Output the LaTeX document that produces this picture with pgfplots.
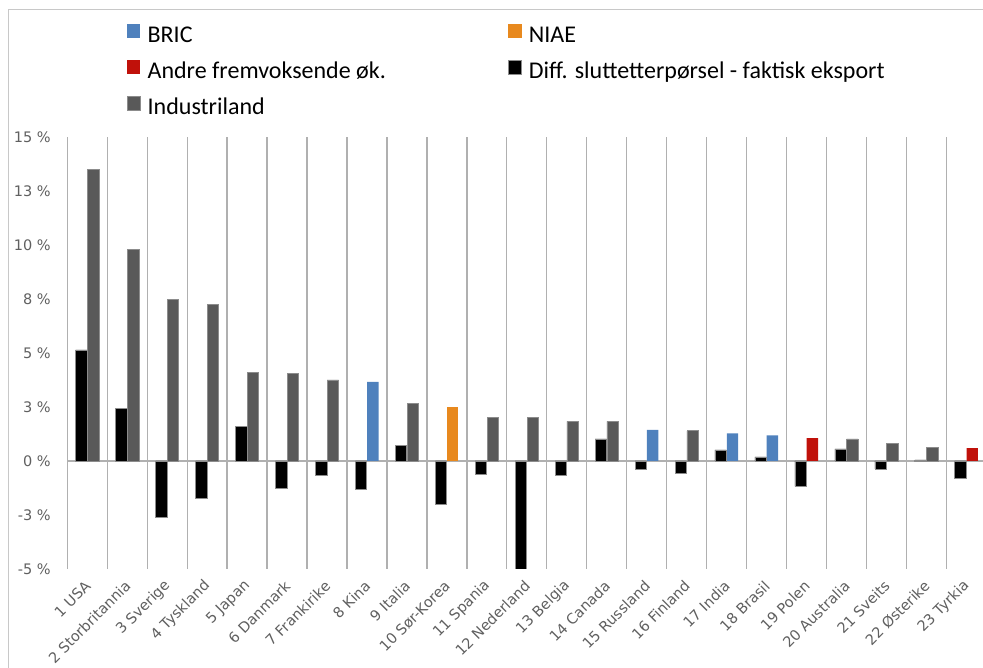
\documentclass[border=0pt]{standalone}
\usepackage{pgfplots}
\pgfplotsset{compat=1.18}
\usepackage{fontspec}
\setmainfont{Carlito}
\newfontfamily\tickfont{DejaVu Sans}
\definecolor{bric}{HTML}{4F81BD}
\definecolor{niae}{HTML}{E8891E}
\definecolor{andre}{HTML}{C0110A}
\definecolor{indgray}{HTML}{595959}
\definecolor{edgegray}{HTML}{8C8C8C}
\definecolor{gridgray}{HTML}{B0B0B0}
\definecolor{tickgray}{HTML}{606060}
\definecolor{framegray}{HTML}{C8C8C8}
\begin{document}
\begin{tikzpicture}
\useasboundingbox (0bp,0bp) rectangle (983bp,668bp);
\draw[framegray, line width=1bp] (8bp,0bp) -- (8bp,658bp) -- (983bp,658bp);
\begin{axis}[
  at={(67.3bp,99bp)}, anchor=south west, scale only axis,
  width=919bp, height=432bp,
  xmin=0.5, xmax=23.5, ymin=-5, ymax=15,
  ybar, bar width=11.4bp,
  axis line style={draw=none},
  major tick length=0pt, minor tick length=0pt,
  xtick={1,...,23},
  xticklabels={1 USA, 2 Storbritannia, 3 Sverige, 4 Tyskland, 5 Japan, 6 Danmark, 7 Frankirike, 8 Kina, 9 Italia, 10 Sør-Korea, 11 Spania, 12 Nederland, 13 Belgia, 14 Canada, 15 Russland, 16 Finland, 17 India, 18 Brasil, 19 Polen, 20 Australia, 21 Sveits, 22 Østerike, 23 Tyrkia},
  minor xtick={0.5,1.5,...,23.5},
  xminorgrids, minor grid style={gridgray, line width=1.3bp},
  ytick={-5,-2.5,0,2.5,5,7.5,10,12.5,15},
  yticklabels={-5 \%, -3 \%, 0 \%, 3 \%, 5 \%, 8 \%, 10 \%, 13 \%, 15 \%},
  extra y ticks={0}, extra y tick labels={},
  extra y tick style={grid=major, major grid style={gridgray, line width=1.6bp}},
  yticklabel style={font=\tickfont\fontsize{14.5bp}{17bp}\selectfont, text=tickgray, xshift=-13bp},
  xticklabel style={font=\tickfont\fontsize{14.5bp}{17bp}\selectfont, text=tickgray, xshift=3bp, yshift=-12bp, rotate=45, anchor=east},
  every axis plot post/.append style={legend image code/.code={\fill[##1] (0bp,-1bp) rectangle (13.5bp,12.5bp);}},
  legend columns=2,
  legend cell align=left,
  legend style={at={(0.061,1.268)}, anchor=north west, draw=none, fill=none,
    font=\fontsize{24bp}{28bp}\selectfont,
    nodes={inner sep=2bp, text height=17bp, text depth=6bp},
    row sep=9bp,
    /tikz/every odd column/.append style={column sep=5bp},
    /tikz/every even column/.append style={column sep=120bp}},
]
\addplot[fill=bric, draw=none, bar shift=5.9bp] coordinates {(8,3.66) (15,1.44) (17,1.28) (18,1.19)};
\addlegendentry{BRIC}
\addplot[fill=niae, draw=none, bar shift=5.9bp] coordinates {(10,2.50)};
\addlegendentry{NIAE}
\addplot[fill=andre, draw=none, bar shift=5.9bp] coordinates {(19,1.06) (23,0.60)};
\addlegendentry{Andre fremvoksende øk.}
\addplot[fill=black, draw=edgegray, line width=0.6bp, bar shift=-5.9bp] coordinates {
(1,5.14) (2,2.44) (3,-2.61) (4,-1.73) (5,1.59) (6,-1.27) (7,-0.68) (8,-1.30)
(9,0.72) (10,-2.00) (11,-0.62) (12,-5.40) (13,-0.66) (14,1.02) (15,-0.40)
(16,-0.59) (17,0.51) (18,0.19) (19,-1.17) (20,0.56) (21,-0.37) (22,0.05) (23,-0.80)};
\addlegendentry{Diff. sluttetterpørsel - faktisk eksport}
\addplot[fill=indgray, draw=edgegray, line width=0.6bp, bar shift=5.9bp] coordinates {
(1,13.50) (2,9.81) (3,7.49) (4,7.25) (5,4.11) (6,4.07) (7,3.75) (9,2.65)
(11,2.00) (12,2.00) (13,1.84) (14,1.84) (16,1.40) (20,1.02) (21,0.80) (22,0.62)};
\addlegendentry{Industriland}
\end{axis}
\end{tikzpicture}
\end{document}
